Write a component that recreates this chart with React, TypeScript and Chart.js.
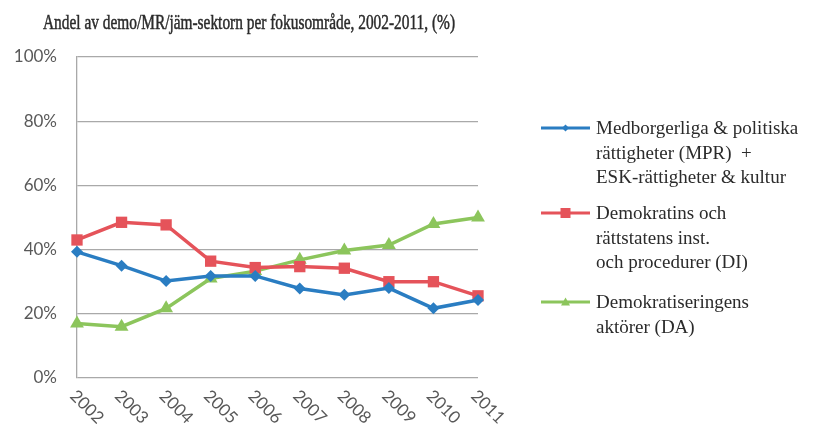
import React, { useEffect, useRef } from "react";
import { Chart, registerables } from "chart.js";

Chart.register(...registerables);

const TITLE = "Andel av demo/MR/jäm-sektorn per fokusområde, 2002-2011, (%)";
const years = ["2002", "2003", "2004", "2005", "2006", "2007", "2008", "2009", "2010", "2011"];
const mprValues = [39.3, 35.0, 30.2, 31.8, 31.8, 27.9, 25.9, 28.0, 21.7, 24.3];
const diValues = [43.0, 48.5, 47.7, 36.4, 34.4, 34.7, 34.2, 30.0, 30.0, 25.6];
const daValues = [17.0, 16.0, 21.7, 31.0, 33.3, 36.8, 39.7, 41.4, 48.0, 50.0];
const mprLabel = ["Medborgerliga & politiska", "rättigheter (MPR)  +", "ESK-rättigheter & kultur"];
const diLabel = ["Demokratins och", "rättstatens inst.", "och procedurer (DI)"];
const daLabel = ["Demokratiseringens", "aktörer (DA)"];
const yTicks = [0, 20, 40, 60, 80, 100];

const BLUE = "#2a7dc2";
const RED = "#e5535a";
const GREEN = "#8cc55c";
const GRID = "#a9a9a9";
const TICK_COLOR = "#595959";
const TEXT_COLOR = "#2b2b2b";

const extrasPlugin = {
  id: "extras",
  afterDraw(chart: any) {
    const ctx = chart.ctx as CanvasRenderingContext2D;
    const xs = chart.scales.x;
    const area = chart.chartArea;
    ctx.save();
    // title
    ctx.fillStyle = TEXT_COLOR;
    ctx.strokeStyle = TEXT_COLOR;
    ctx.font = "21px 'Liberation Serif'";
    ctx.textBaseline = "alphabetic";
    ctx.textAlign = "left";
    const w = ctx.measureText(TITLE).width;
    const target = 412;
    ctx.save();
    ctx.translate(43, 29);
    ctx.scale(target / w, 1);
    ctx.fillText(TITLE, 0, 0);
    ctx.lineWidth = 0.5;
    ctx.strokeText(TITLE, 0, 0);
    ctx.restore();

    // rotated x labels
    ctx.fillStyle = TICK_COLOR;
    ctx.font = "17px Lato";
    ctx.textAlign = "left";
    ctx.textBaseline = "middle";
    years.forEach((y, i) => {
      const px = xs.getPixelForValue(i);
      ctx.save();
      ctx.translate(px - 4, area.bottom + 15);
      ctx.rotate(Math.PI / 4);
      ctx.fillText(y, 0, 0);
      ctx.restore();
    });

    // legend
    const groups = [
      { label: mprLabel, color: BLUE, style: "rectRot", top: 128, r: 3.5 },
      { label: diLabel, color: RED, style: "rect", top: 213, r: 5 },
      { label: daLabel, color: GREEN, style: "triangle", top: 302, r: 4.5 },
    ];
    groups.forEach((g) => {
      ctx.strokeStyle = g.color;
      ctx.lineWidth = 3;
      ctx.beginPath();
      ctx.moveTo(541, g.top);
      ctx.lineTo(590, g.top);
      ctx.stroke();
      ctx.fillStyle = g.color;
      const cx = 565.5;
      const cy = g.top;
      ctx.beginPath();
      if (g.style === "rectRot") {
        ctx.moveTo(cx, cy - g.r);
        ctx.lineTo(cx + g.r, cy);
        ctx.lineTo(cx, cy + g.r);
        ctx.lineTo(cx - g.r, cy);
      } else if (g.style === "rect") {
        ctx.rect(cx - g.r, cy - g.r, g.r * 2, g.r * 2);
      } else {
        ctx.moveTo(cx, cy - g.r);
        ctx.lineTo(cx + g.r, cy + g.r * 0.8);
        ctx.lineTo(cx - g.r, cy + g.r * 0.8);
      }
      ctx.closePath();
      ctx.fill();
      ctx.fillStyle = TEXT_COLOR;
      ctx.font = "19px 'Liberation Serif'";
      ctx.textAlign = "left";
      ctx.textBaseline = "alphabetic";
      g.label.forEach((line, k) => {
        ctx.fillText(line, 596, g.top + 6 + k * 24.5);
      });
    });
    ctx.restore();
  },
};

export default function App() {
  const ref = useRef<HTMLCanvasElement | null>(null);
  useEffect(() => {
    const prevMargin = document.body.style.margin;
    document.body.style.margin = "0";
    const canvas = ref.current!;
    const chart = new Chart(canvas, {
      type: "line",
      data: {
        labels: years,
        datasets: [
          {
            label: mprLabel.join(" "),
            data: mprValues,
            borderColor: BLUE,
            backgroundColor: BLUE,
            borderWidth: 3.5,
            pointStyle: "rectRot",
            pointRadius: 6,
            pointBorderWidth: 0,
            tension: 0,
          },
          {
            label: diLabel.join(" "),
            data: diValues,
            borderColor: RED,
            backgroundColor: RED,
            borderWidth: 3.5,
            pointStyle: "rect",
            pointRadius: 8,
            pointBorderWidth: 0,
            tension: 0,
          },
          {
            label: daLabel.join(" "),
            data: daValues,
            borderColor: GREEN,
            backgroundColor: GREEN,
            borderWidth: 3.5,
            pointStyle: "triangle",
            pointRadius: 8,
            pointBorderWidth: 0,
            tension: 0,
          },
        ],
      },
      options: {
        responsive: false,
        animation: false,
        layout: { padding: { left: 0, top: 57, right: 335, bottom: 47 } },
        plugins: {
          legend: { display: false },
          title: { display: false },
          tooltip: { enabled: false },
        },
        scales: {
          x: {
            offset: false,
            grid: { display: false, drawTicks: false },
            border: { display: false },
            ticks: { display: false },
            afterFit: (s: any) => {
              s.height = 0;
            },
          },
          y: {
            min: 0,
            max: 100,
            afterBuildTicks: (s: any) => {
              s.ticks = yTicks.map((v) => ({ value: v }));
            },
            grid: { color: GRID, lineWidth: 1.3, drawTicks: false },
            border: { display: true, color: GRID, width: 1.3 },
            ticks: {
              padding: 20,
              color: TICK_COLOR,
              font: { family: "Lato", size: 17 },
              callback: (v: any) => v + "%",
            },
            afterFit: (s: any) => {
              s.width = 77;
            },
          },
        },
      },
      plugins: [extrasPlugin],
    });
    return () => {
      chart.destroy();
      document.body.style.margin = prevMargin;
    };
  }, []);
  return (
    <div style={{ position: "absolute", left: 0, top: 0, width: 813, height: 425, background: "#fff" }}>
      <canvas ref={ref} width={813} height={425} />
    </div>
  );
}
